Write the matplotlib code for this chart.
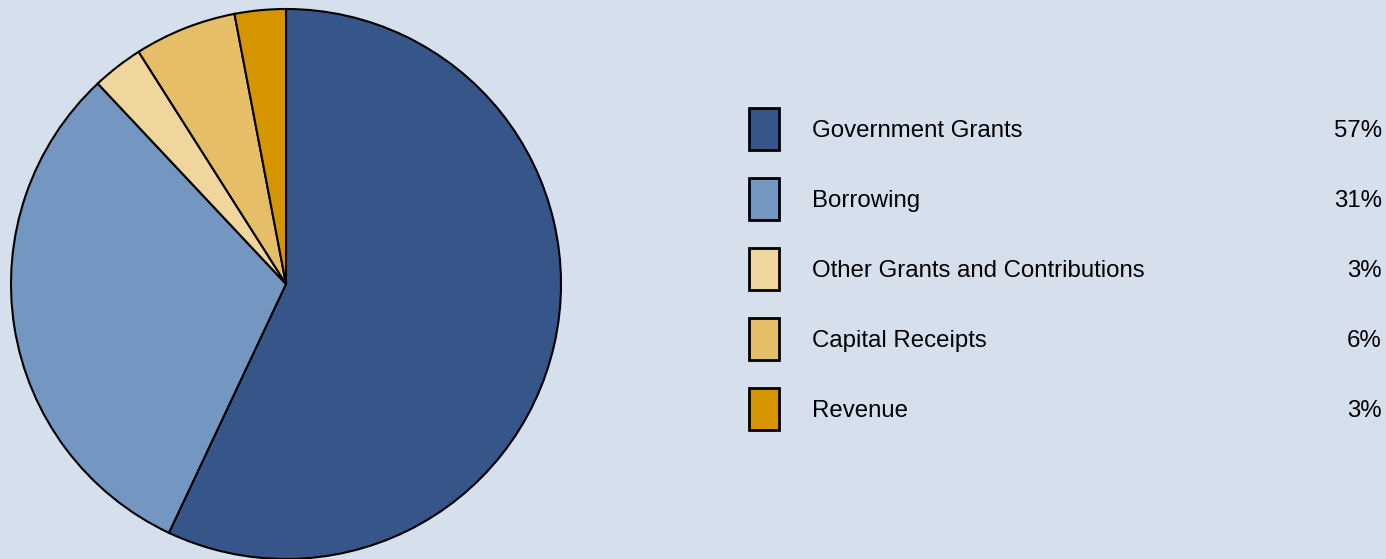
import matplotlib
matplotlib.use("Agg")
import matplotlib.pyplot as plt
from matplotlib.patches import Rectangle

categories = ["Government Grants", "Borrowing", "Other Grants and Contributions",
              "Capital Receipts", "Revenue"]
shares = [57, 31, 3, 6, 3]
colors = ["#36568A", "#7397C0", "#F0D59C", "#E6BE68", "#D49500"]
bg = "#D6E0EC"

W, H = 1386, 559
fig = plt.figure(figsize=(W / 100, H / 100), dpi=100, facecolor=bg)
ax = fig.add_axes([0, 0, 1, 1])
ax.set_facecolor(bg)
ax.axis("off")

ax.pie(shares, colors=colors, startangle=90, counterclock=False,
       center=(286, 275), radius=275,
       wedgeprops=dict(edgecolor="black", linewidth=1.5))
ax.set_xlim(0, W)
ax.set_ylim(0, H)
ax.set_aspect("equal")

# legend rows: swatch, label, percentage
for i, (cat, val, col) in enumerate(zip(categories, shares, colors)):
    yc = H - (129 + 70 * i)
    ax.add_patch(Rectangle((749, yc - 21), 30, 42, facecolor=col,
                           edgecolor="black", linewidth=2))
    ax.text(812, yc - 2, cat, fontsize=17.3, family="Liberation Sans",
            va="center", ha="left", color="black")
    ax.text(1382, yc - 2, f"{val}%", fontsize=17.3, family="Liberation Sans",
            va="center", ha="right", color="black")

fig.savefig("out.png", dpi=100, facecolor=bg)
